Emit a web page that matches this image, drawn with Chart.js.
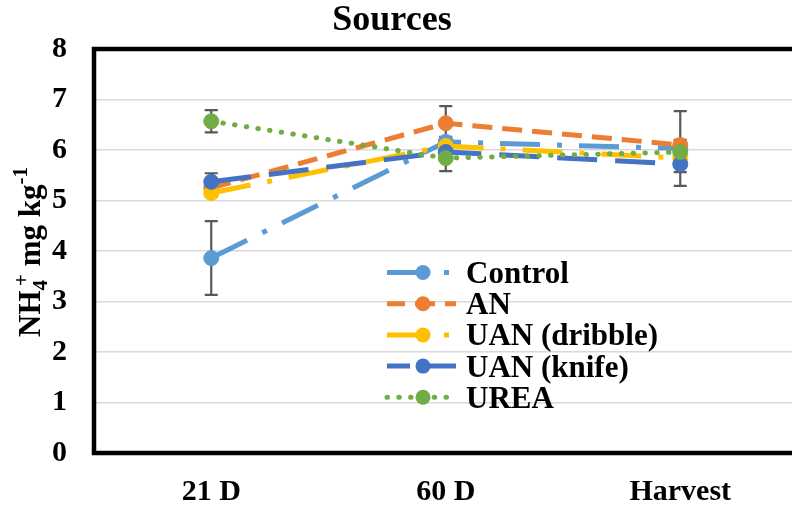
<!DOCTYPE html>
<html>
<head>
<meta charset="utf-8">
<script src="https://cdn.jsdelivr.net/npm/chart.js@4.4.0/dist/chart.umd.min.js"></script>
<style>
  html, body { margin: 0; padding: 0; background: #fff; overflow: hidden; }
  #wrap { width: 806px; height: 509px; }
</style>
</head>
<body>
<div id="wrap"><canvas id="chart1" width="806" height="509"></canvas></div>
<script>
const categories = ["21 D", "60 D", "Harvest"];
const seriesNames = ["Control", "AN", "UAN (dribble)", "UAN (knife)", "UREA"];
const yTicks = [0, 1, 2, 3, 4, 5, 6, 7, 8];

// NH4+ means
const controlValues = [3.86, 6.16, 6.03];
const anValues = [5.25, 6.53, 6.1];
const dribbleValues = [5.15, 6.08, 5.84];
const knifeValues = [5.37, 5.96, 5.72];
const ureaValues = [6.57, 5.84, 5.96];

// error bar half-lengths (+/-)
const controlErr = [0.73, 0.1, 0.74];
const anErr = [0.1, 0.34, 0.1];
const dribbleErr = [0.08, 0.08, 0.08];
const knifeErr = [0.17, 0.08, 0.16];
const ureaErr = [0.22, 0.26, 0.1];

const FONT = "'Liberation Serif', 'Times New Roman', serif";

function makeSet(i, values, errs, color, dash, cap, order, legendOffset) {
  return {
    label: seriesNames[i],
    data: values,
    errors: errs,
    legendOffset: legendOffset,
    borderColor: color,
    backgroundColor: color,
    borderWidth: 5,
    borderDash: dash,
    borderCapStyle: cap,
    pointRadius: 7.5,
    pointBorderWidth: 1,
    pointBorderColor: color,
    pointBackgroundColor: color,
    tension: 0,
    fill: false,
    order: order,
  };
}

const datasets = [
  makeSet(0, controlValues, controlErr, "#5B9BD5", [40, 17, 5, 17], "butt", 4, 0),
  makeSet(1, anValues, anErr, "#ED7D31", [20, 10], "butt", 3, 2),
  makeSet(2, dribbleValues, dribbleErr, "#FFC000", [40, 17, 5, 17], "butt", 2, 0),
  makeSet(3, knifeValues, knifeErr, "#4472C4", [40, 18], "butt", 1, 17),
  makeSet(4, ureaValues, ureaErr, "#70AD47", [0.5, 11.3], "round", 0, 0),
];

const errorBars = {
  id: "errorBars",
  beforeDatasetsDraw(chart) {
    const ctx = chart.ctx;
    const y = chart.scales.y;
    ctx.save();
    ctx.strokeStyle = "#595959";
    ctx.lineWidth = 2.2;
    chart.data.datasets.forEach((ds, di) => {
      const meta = chart.getDatasetMeta(di);
      meta.data.forEach((pt, i) => {
        const hi = y.getPixelForValue(ds.data[i] + ds.errors[i]);
        const lo = y.getPixelForValue(ds.data[i] - ds.errors[i]);
        ctx.beginPath();
        ctx.moveTo(pt.x, hi);
        ctx.lineTo(pt.x, lo);
        ctx.moveTo(pt.x - 6.5, hi);
        ctx.lineTo(pt.x + 6.5, hi);
        ctx.moveTo(pt.x - 6.5, lo);
        ctx.lineTo(pt.x + 6.5, lo);
        ctx.stroke();
      });
    });
    ctx.restore();
  },
};

const decorations = {
  id: "decorations",
  afterDraw(chart) {
    const ctx = chart.ctx;
    const a = chart.chartArea;
    ctx.save();
    // black frame round the plot area
    ctx.strokeStyle = "#000";
    ctx.lineWidth = 4.5;
    ctx.strokeRect(a.left, a.top, a.right - a.left, a.bottom - a.top);

    // title
    ctx.fillStyle = "#000";
    ctx.textAlign = "center";
    ctx.textBaseline = "alphabetic";
    ctx.font = "bold 36px " + FONT;
    ctx.fillText("Sources", 392, 30);

    // y axis title with sub/superscripts
    const parts = [
      { t: "NH", size: 31, dy: 0 },
      { t: "4", size: 21, dy: 7 },
      { t: "+", size: 21, dy: -12, back: 6 },
      { t: " mg kg", size: 31, dy: 0 },
      { t: "-1", size: 21, dy: -13 },
    ];
    let total = 0;
    parts.forEach((p) => {
      ctx.font = "bold " + p.size + "px " + FONT;
      p.w = ctx.measureText(p.t).width;
      total += p.w - (p.back || 0);
    });
    ctx.translate(40, 252);
    ctx.rotate(-Math.PI / 2);
    ctx.textAlign = "left";
    let x = -total / 2;
    parts.forEach((p) => {
      x -= p.back || 0;
      ctx.font = "bold " + p.size + "px " + FONT;
      ctx.fillText(p.t, x, p.dy);
      x += p.w;
    });
    ctx.restore();

    // legend
    ctx.save();
    chart.data.datasets.forEach((ds, i) => {
      const cy = 272.5 + i * 31.2;
      ctx.strokeStyle = ds.borderColor;
      ctx.lineWidth = ds.borderWidth;
      ctx.lineCap = ds.borderCapStyle;
      ctx.setLineDash(ds.borderDash);
      ctx.lineDashOffset = ds.legendOffset;
      ctx.beginPath();
      ctx.moveTo(387, cy);
      ctx.lineTo(456, cy);
      ctx.stroke();
      ctx.setLineDash([]);
      ctx.fillStyle = ds.borderColor;
      ctx.beginPath();
      ctx.arc(423, cy, 7.5, 0, Math.PI * 2);
      ctx.fill();
      ctx.fillStyle = "#000";
      ctx.font = "bold 31px " + FONT;
      ctx.textAlign = "left";
      ctx.textBaseline = "alphabetic";
      ctx.fillText(ds.label, 466, cy + 10.5);
    });
    ctx.restore();
  },
};

const ctx = document.getElementById("chart1").getContext("2d");
new Chart(ctx, {
  type: "line",
  data: { labels: categories, datasets: datasets },
  options: {
    responsive: false,
    animation: false,
    layout: { padding: { top: 49, right: 5, left: 0, bottom: 0 } },
    plugins: {
      legend: { display: false },
      title: { display: false },
      tooltip: { enabled: false },
    },
    scales: {
      x: {
        type: "category",
        offset: true,
        grid: { display: false, drawTicks: false },
        border: { display: false },
        ticks: {
          color: "#000",
          padding: 21,
          font: { family: FONT, size: 30, weight: "bold" },
        },
        afterFit(scale) { scale.height = 56; },
      },
      y: {
        min: 0,
        max: 8,
        afterBuildTicks(scale) { scale.ticks = yTicks.map((v) => ({ value: v })); },
        grid: { color: "#d9d9d9", lineWidth: 1.5, drawTicks: false },
        border: { display: false },
        ticks: {
          color: "#000",
          padding: 27,
          font: { family: FONT, size: 30, weight: "bold" },
        },
        afterFit(scale) { scale.width = 94; },
      },
    },
  },
  plugins: [errorBars, decorations],
});
</script>
</body>
</html>
